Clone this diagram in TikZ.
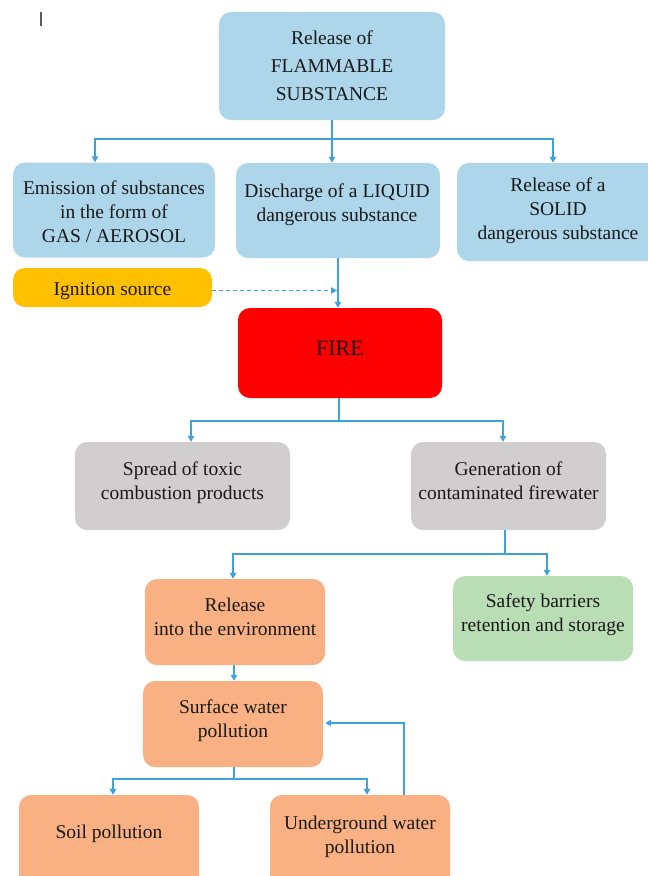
\documentclass[tikz,border=0pt]{standalone}
\usepackage{fontspec}
\setmainfont{LiberationSerif}[Extension=.ttf, UprightFont=*-Regular, BoldFont=*-Bold]
\usetikzlibrary{arrows.meta}
\definecolor{boxblue}{HTML}{AED6EA}
\definecolor{boxamber}{HTML}{FFC000}
\definecolor{boxred}{HTML}{FF0000}
\definecolor{boxgray}{HTML}{D0CECE}
\definecolor{boxsalmon}{HTML}{F9B183}
\definecolor{boxgreen}{HTML}{B9DDB5}
\definecolor{linkblue}{HTML}{3FA2DC}
\tikzset{
  box/.style={rounded corners=12pt, inner sep=0pt},
  bluebox/.style={box, fill=boxblue},
  graybox/.style={box, fill=boxgray},
  salmonbox/.style={box, fill=boxsalmon},
  txt/.style={inner sep=0pt, align=center, text=black!90,
    font=\fontsize{19.5}{24}\selectfont},
  link/.style={draw=linkblue, line width=1.2pt},
  conn/.style={link, -{Triangle[length=6pt,width=6.5pt]}},
  dashconn/.style={conn, dash pattern=on 4pt off 3pt}
}
\begin{document}
\begin{tikzpicture}[x=1pt, y=-1pt]
\useasboundingbox (0,0) rectangle (648,876);
\fill[white] (0,0) rectangle (648,876);

% small cursor mark
\draw[gray!70!black, line width=1.2pt] (41,12) -- (41,26);

% boxes
\node[bluebox, minimum width=226pt, minimum height=108pt] (top) at (332,66) {};
\node[bluebox, minimum width=202pt, minimum height=95pt] (gas) at (114,210) {};
\node[bluebox, minimum width=204pt, minimum height=95pt] (liquid) at (338,210.5) {};
\node[bluebox, minimum width=210pt, minimum height=98pt] (solid) at (562,212) {};
\node[box, fill=boxamber, minimum width=199pt, minimum height=39pt] (ign) at (112.5,287.5) {};
\node[box, fill=boxred, minimum width=204pt, minimum height=90pt] (fire) at (340,353) {};
\node[graybox, minimum width=215pt, minimum height=88pt] (toxic) at (182.5,486) {};
\node[graybox, minimum width=195pt, minimum height=88pt] (firewater) at (508.5,486) {};
\node[salmonbox, minimum width=180pt, minimum height=86pt] (release) at (235,622) {};
\node[box, fill=boxgreen, minimum width=180pt, minimum height=85pt] (barriers) at (543,618.5) {};
\node[salmonbox, minimum width=180pt, minimum height=86pt] (surface) at (233,724) {};
\node[salmonbox, minimum width=180pt, minimum height=100pt] (soil) at (109,845) {};
\node[salmonbox, minimum width=180pt, minimum height=100pt] (ground) at (360,845) {};

% box texts
\node[txt, font=\fontsize{19.5}{28}\selectfont] (top-t) at (332,66)
      {Release of\\FLAMMABLE\\SUBSTANCE};
\node[txt] (gas-t) at (114,212) {Emission of substances\\in the form of\\GAS / AEROSOL};
\node[txt] (liquid-t) at (337,204.5) {Discharge of a LIQUID\\dangerous substance};
\node[txt] (solid-t) at (558,211) {Release of a\\SOLID\\dangerous substance};
\node[txt] (ign-t) at (112.5,291) {Ignition source};
\node[txt, font=\fontsize{22}{26}\selectfont] (fire-t) at (340,348.5) {FIRE};
\node[txt] (toxic-t) at (182.5,483) {Spread of toxic\\combustion products};
\node[txt] (firewater-t) at (508.5,481) {Generation of\\contaminated firewater};
\node[txt] (release-t) at (235,617) {Release\\into the environment};
\node[txt] (barriers-t) at (543,614.5) {Safety barriers\\retention and storage};
\node[txt] (surface-t) at (233,721) {Surface water\\pollution};
\node[txt] (soil-t) at (109,834) {Soil pollution};
\node[txt] (ground-t) at (360,837) {Underground water\\pollution};

% branch points
\coordinate (b1) at (332,139);
\coordinate (b2) at (339,421);
\coordinate (b3) at (505,554);
\coordinate (b4) at (234,779);
\coordinate (fb) at (404,723);

% release of flammable substance
\draw[conn] (top.south) -- (top.south |- liquid.north);
\draw[conn] (top.south) -- (b1) -| ([xshift=-19pt]gas.north);
\draw[conn] (b1) -| ([xshift=-9pt]solid.north);

% liquid to fire, with the ignition source
\draw[conn] (liquid.south) -- (liquid.south |- fire.north);
\draw[dashconn] ([yshift=-3pt]ign.east) -- ([yshift=-3pt,xshift=-1pt]ign.east -| liquid.south);

% fire consequences
\draw[link] (fire.south -| b2) -- (b2);
\draw[conn] (b2) -| ([xshift=8.5pt]toxic.north);
\draw[conn] (b2) -| ([xshift=-5.5pt]firewater.north);

% firewater
\draw[link] (firewater.south -| b3) -- (b3);
\draw[conn] (b3) -| ([xshift=-2pt]release.north);
\draw[conn] (b3) -| ([xshift=4pt]barriers.north);

% release into surface water
\draw[conn] (release.south -| b4) -- (b4 |- surface.north);

% surface water consequences
\draw[link] (surface.south -| b4) -- (b4);
\draw[conn] (b4) -| ([xshift=4pt]soil.north);
\draw[conn] (b4) -| ([xshift=7pt]ground.north);

% feedback from groundwater to surface water
\draw[conn] (ground.north -| fb) -- (fb) -- ([xshift=2pt]fb -| surface.east);
\end{tikzpicture}
\end{document}
